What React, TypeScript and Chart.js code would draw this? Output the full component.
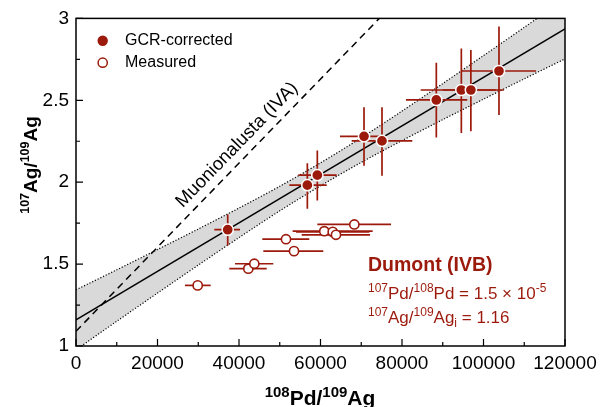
import React, { useEffect, useRef } from 'react';
import { Chart, registerables } from 'chart.js';
Chart.register(...registerables);

const RED = '#9c1a0c';
const GRAY = '#d9d9d9';
const FONT = "'Liberation Sans', Arial, Helvetica, sans-serif";

// GCR-corrected points (filled) with error bars
const gcrX = [37230, 56770, 59220, 70680, 75090, 88420, 94560, 96900, 103800];
const gcrY = [1.71, 1.982, 2.043, 2.28, 2.252, 2.502, 2.563, 2.563, 2.679];
const gcrXLo = [33940, 52350, 54550, 64790, 67650, 80980, 84580, 90000, 94650];
const gcrXHi = [40250, 61520, 63970, 75340, 82530, 96030, 103000, 105000, 112900];
const gcrYLo = [1.614, 1.838, 1.888, 2.10, 2.04, 2.273, 2.30, 2.311, 2.41];
const gcrYHi = [1.803, 2.116, 2.193, 2.457, 2.457, 2.73, 2.817, 2.807, 2.95];

// Measured points (open) with x error bars
const measX = [29860, 42290, 43760, 51530, 53500, 60930, 63000, 63800, 68300];
const measY = [1.37, 1.472, 1.502, 1.652, 1.579, 1.701, 1.697, 1.679, 1.742];
const measXLo = [26750, 37620, 39020, 45720, 45970, 53160, 54000, 55390, 59220];
const measXHi = [33050, 46800, 48420, 57250, 60690, 72800, 72000, 72150, 77300];

// Isochron fit (solid)
const fitX = [0, 120000];
const fitY = [1.16, 2.936];

// Muonionalusta (IVA) reference line (dashed)
const ivaX = [0, 74430];
const ivaY = [1.09, 3.0];

// Error envelope (dotted, grey band)
const bandX = [0, 10000, 20000, 30000, 40000, 50000, 60000, 70000, 80000, 90000, 100000, 110000, 120000];
const bandUpper = [1.343, 1.465, 1.589, 1.714, 1.842, 1.975, 2.118, 2.271, 2.434, 2.602, 2.773, 2.945, 3.119];
const bandLower = [0.977, 1.151, 1.323, 1.494, 1.662, 1.825, 1.978, 2.121, 2.254, 2.382, 2.507, 2.631, 2.753];

// Axes
const xTicks = [0, 20000, 40000, 60000, 80000, 100000, 120000];
const yTicks = [1, 1.5, 2, 2.5, 3];

const pts = (xs: number[], ys: number[]) => xs.map((x, i) => ({ x, y: ys[i] }));

type Seg = [string, string, number];
function drawRich(ctx: CanvasRenderingContext2D, segs: Seg[], x: number, y: number, align: 'left' | 'center') {
  let total = 0;
  for (const [t, f] of segs) { ctx.font = f; total += ctx.measureText(t).width; }
  let cx = align === 'center' ? x - total / 2 : x;
  ctx.textAlign = 'left';
  ctx.textBaseline = 'alphabetic';
  for (const [t, f, dy] of segs) {
    ctx.font = f;
    ctx.fillText(t, cx, y + dy);
    cx += ctx.measureText(t).width;
  }
}

const decorPlugin = {
  id: 'decor',
  beforeDatasetDraw(chart: any, args: any) {
    const ctx: CanvasRenderingContext2D = chart.ctx;
    const xs = chart.scales.x, ys = chart.scales.y;
    ctx.save();
    ctx.strokeStyle = RED;
    ctx.lineWidth = 1.7;
    if (args.index === 0) {
      for (let i = 0; i < gcrX.length; i++) {
        const px = xs.getPixelForValue(gcrX[i]);
        const py = ys.getPixelForValue(gcrY[i]);
        ctx.beginPath();
        ctx.moveTo(xs.getPixelForValue(gcrXLo[i]), py);
        ctx.lineTo(xs.getPixelForValue(gcrXHi[i]), py);
        ctx.moveTo(px, ys.getPixelForValue(gcrYLo[i]));
        ctx.lineTo(px, ys.getPixelForValue(gcrYHi[i]));
        ctx.stroke();
      }
    }
    if (args.index === 1) {
      for (let i = 0; i < measX.length; i++) {
        const py = ys.getPixelForValue(measY[i]);
        ctx.beginPath();
        ctx.moveTo(xs.getPixelForValue(measXLo[i]), py);
        ctx.lineTo(xs.getPixelForValue(measXHi[i]), py);
        ctx.stroke();
      }
    }
    ctx.restore();
  },
  afterDraw(chart: any) {
    const ctx: CanvasRenderingContext2D = chart.ctx;
    const a = chart.chartArea;
    const xs = chart.scales.x, ys = chart.scales.y;
    ctx.save();
    // frame
    ctx.strokeStyle = '#000';
    ctx.lineWidth = 1.5;
    ctx.strokeRect(a.left, a.top, a.right - a.left, a.bottom - a.top);
    // ticks (inside)
    ctx.lineWidth = 1.2;
    ctx.beginPath();
    for (let v = 0; v <= 120000; v += 10000) {
      const px = xs.getPixelForValue(v);
      const len = v % 20000 === 0 ? 7 : 4;
      ctx.moveTo(px, a.bottom);
      ctx.lineTo(px, a.bottom - len);
    }
    for (let k = 0; k <= 8; k++) {
      const v = 1 + k * 0.25;
      const py = ys.getPixelForValue(v);
      const len = k % 2 === 0 ? 7 : 4;
      ctx.moveTo(a.left, py);
      ctx.lineTo(a.left + len, py);
    }
    ctx.stroke();

    // rotated Muonionalusta label
    const p0x = xs.getPixelForValue(ivaX[0]), p0y = ys.getPixelForValue(ivaY[0]);
    const p1x = xs.getPixelForValue(ivaX[1]), p1y = ys.getPixelForValue(ivaY[1]);
    const ang = Math.atan2(p1y - p0y, p1x - p0x);
    const ax = 42000;
    const ay = ivaY[0] + (ivaY[1] - ivaY[0]) * (ax - ivaX[0]) / (ivaX[1] - ivaX[0]);
    const cx = xs.getPixelForValue(ax), cy = ys.getPixelForValue(ay);
    ctx.translate(cx, cy);
    ctx.rotate(ang);
    ctx.fillStyle = '#000';
    ctx.font = `18.5px ${FONT}`;
    ctx.textAlign = 'center';
    ctx.textBaseline = 'alphabetic';
    ctx.fillText('Muonionalusta (IVA)', 0, -9);
    ctx.setTransform(1, 0, 0, 1, 0, 0);

    // legend
    ctx.fillStyle = RED;
    ctx.beginPath();
    ctx.arc(102.7, 40.7, 5.2, 0, Math.PI * 2);
    ctx.fill();
    ctx.fillStyle = '#fff';
    ctx.strokeStyle = RED;
    ctx.lineWidth = 1.5;
    ctx.beginPath();
    ctx.arc(102.7, 62.7, 4.6, 0, Math.PI * 2);
    ctx.fill();
    ctx.stroke();
    ctx.fillStyle = '#000';
    ctx.font = `16px ${FONT}`;
    ctx.textAlign = 'left';
    ctx.textBaseline = 'middle';
    ctx.fillText('GCR-corrected', 125, 41);
    ctx.fillText('Measured', 125, 63);

    // annotation
    ctx.fillStyle = RED;
    ctx.font = `bold 19.5px ${FONT}`;
    ctx.textBaseline = 'alphabetic';
    ctx.fillText('Dumont (IVB)', 368, 271);
    const m = `17px ${FONT}`, s = `12px ${FONT}`;
    drawRich(ctx, [['107', s, -7], ['Pd/', m, 0], ['108', s, -7], ['Pd = 1.5 \u00d7 10', m, 0], ['-5', s, -7]], 368, 299, 'left');
    drawRich(ctx, [['107', s, -7], ['Ag/', m, 0], ['109', s, -7], ['Ag', m, 0], ['i', s, 4], [' = 1.16', m, 0]], 368, 323, 'left');

    // axis titles
    ctx.fillStyle = '#000';
    const xm = `bold 21px ${FONT}`, xsup = `bold 15px ${FONT}`;
    drawRich(ctx, [['108', xsup, -8.5], ['Pd/', xm, 0], ['109', xsup, -8.5], ['Ag', xm, 0]], 320, 405, 'center');
    ctx.translate(36.5, 165);
    ctx.rotate(-Math.PI / 2);
    const ym = `bold 19px ${FONT}`, ysup = `bold 12.5px ${FONT}`;
    drawRich(ctx, [['107', ysup, -8], ['Ag/', ym, 0], ['109', ysup, -8], ['Ag', ym, 0]], 0, 0, 'center');
    ctx.restore();
  },
};

export default function App() {
  const ref = useRef<HTMLCanvasElement>(null);
  useEffect(() => {
    const chart = new Chart(ref.current as HTMLCanvasElement, {
      type: 'scatter',
      data: {
        datasets: [
          {
            label: 'GCR-corrected',
            data: pts(gcrX, gcrY),
            pointRadius: 5.6,
            pointBackgroundColor: RED,
            pointBorderColor: '#fff',
            pointBorderWidth: 1.5,
            showLine: false,
          },
          {
            label: 'Measured',
            data: pts(measX, measY),
            pointRadius: 4.6,
            pointBackgroundColor: '#fff',
            pointBorderColor: RED,
            pointBorderWidth: 1.6,
            showLine: false,
          },
          {
            label: 'fit',
            data: pts(fitX, fitY),
            showLine: true,
            borderColor: '#000',
            borderWidth: 1.5,
            pointRadius: 0,
            fill: false,
          },
          {
            label: 'Muonionalusta (IVA)',
            data: pts(ivaX, ivaY),
            showLine: true,
            borderColor: '#000',
            borderWidth: 1.5,
            borderDash: [7, 5],
            pointRadius: 0,
            fill: false,
          },
          {
            label: 'lower',
            data: pts(bandX, bandLower),
            showLine: true,
            borderColor: '#000',
            borderWidth: 1.2,
            borderDash: [1.2, 1.8],
            pointRadius: 0,
            tension: 0.3,
            fill: false,
          },
          {
            label: 'upper',
            data: pts(bandX, bandUpper),
            showLine: true,
            borderColor: '#000',
            borderWidth: 1.2,
            borderDash: [1.2, 1.8],
            pointRadius: 0,
            tension: 0.3,
            fill: '-1',
            backgroundColor: GRAY,
          },
        ] as any,
      },
      options: {
        animation: false,
        responsive: false,
        devicePixelRatio: 1,
        layout: { padding: { top: 17, right: 40, left: 0, bottom: 0 } },
        plugins: {
          legend: { display: false },
          tooltip: { enabled: false },
        },
        scales: {
          x: {
            type: 'linear',
            min: 0,
            max: 120000,
            afterBuildTicks: (s: any) => { s.ticks = xTicks.map((v) => ({ value: v })); },
            afterFit: (s: any) => { s.height = 61; },
            grid: { display: false, drawTicks: false },
            border: { display: false },
            ticks: {
              padding: 6,
              color: '#000',
              font: { family: FONT, size: 19 },
              maxRotation: 0,
              callback: (v: any) => String(v),
            },
          },
          y: {
            type: 'linear',
            min: 1,
            max: 3,
            afterBuildTicks: (s: any) => { s.ticks = yTicks.map((v) => ({ value: v })); },
            afterFit: (s: any) => { s.width = 76; },
            grid: { display: false, drawTicks: false },
            border: { display: false },
            ticks: {
              padding: 7,
              color: '#000',
              font: { family: FONT, size: 19 },
              callback: (v: any) => String(v),
            },
          },
        },
      } as any,
      plugins: [decorPlugin],
    });
    return () => chart.destroy();
  }, []);
  return (
    <div style={{ position: 'absolute', left: 0, top: 0, width: 605, height: 407, background: '#fff' }}>
      <canvas ref={ref} width={605} height={407} style={{ width: 605, height: 407, display: 'block' }} />
    </div>
  );
}
